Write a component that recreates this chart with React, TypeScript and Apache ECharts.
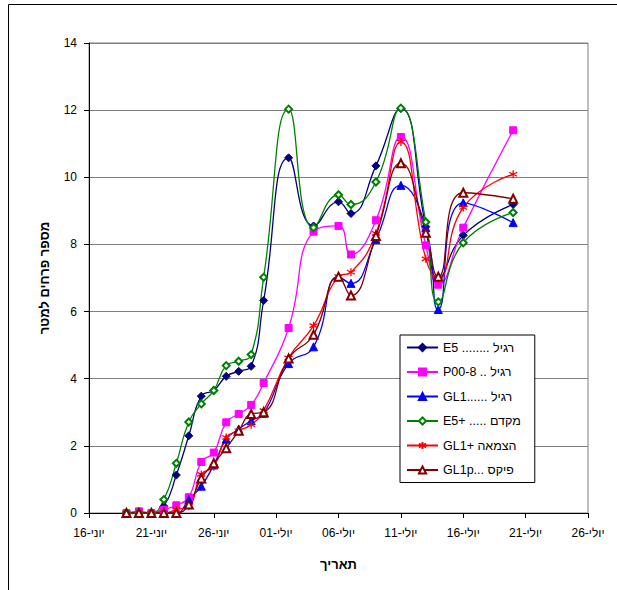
import React, { useEffect, useRef } from "react";
import * as echarts from "echarts";

// Days after 16-Jun on which counts were taken
const dayOffsets = [3, 4, 5, 6, 7, 8, 9, 10, 11, 12, 13, 14, 16, 18, 20, 21, 23, 25, 27, 28, 30, 34];

const tickLabels = ["16-יוני", "21-יוני", "26-יוני", "01-יולי", "06-יולי", "11-יולי", "16-יולי", "21-יולי", "26-יולי"];

const seriesNames = [
  "E5 ........ רגיל",
  "P00-8 .. רגיל",
  "GL1...... רגיל",
  "E5+ ..... מקדם",
  "GL1+ הצמאה",
  "GL1p... פיקס",
];

const e5Regular = [0, 0, 0, 0.2, 1.13, 2.3, 3.48, 3.65, 4.07, 4.22, 4.37, 6.33, 10.58, 8.55, 9.27, 8.92, 10.34, 12.05, 8.53, 7.0, 8.27, 9.19];
const p008Regular = [0, 0.05, 0, 0.1, 0.23, 0.47, 1.52, 1.8, 2.7, 2.95, 3.22, 3.87, 5.51, 8.38, 8.55, 7.7, 8.72, 11.2, 7.97, 6.8, 8.5, 11.4];
const gl1Regular = [0, 0, 0, 0, 0, 0.4, 0.8, 1.43, 2.2, 2.5, 2.75, 2.97, 4.45, 4.95, 7.04, 6.84, 8.15, 9.76, 8.5, 6.06, 9.24, 8.65];
const e5Advanced = [0, 0, 0, 0.4, 1.48, 2.71, 3.25, 3.65, 4.39, 4.52, 4.72, 7.02, 12.03, 8.5, 9.48, 9.19, 9.86, 12.06, 8.67, 6.29, 8.05, 8.95];
const gl1Thirst = [0, 0, 0, 0, 0.1, 0.2, 1.15, 1.38, 2.25, 2.45, 2.63, 3.05, 4.62, 5.58, 7.04, 7.17, 8.33, 11.05, 7.57, 6.98, 9.1, 10.09];
const gl1pFix = [0, 0, 0, 0, 0, 0.25, 1.03, 1.48, 1.93, 2.45, 2.95, 3.0, 4.6, 5.31, 7.04, 6.48, 8.25, 10.42, 8.35, 7.04, 9.54, 9.36];

const seriesValues = [e5Regular, p008Regular, gl1Regular, e5Advanced, gl1Thirst, gl1pFix];
const seriesColors = ["#000080", "#FF00FF", "#0000FF", "#008000", "#FF0000", "#800000"];
const seriesSymbols = [
  "diamond",
  "rect",
  "triangle",
  "emptyDiamond",
  "path://M5,0L5,10M0.8,2.5L9.2,7.5M9.2,2.5L0.8,7.5",
  "emptyTriangle",
];
const symbolSizes = [8, 7, 8, 7, 8, 8];

const FONT = "'Liberation Sans', Arial, sans-serif";

export default function App() {
  const ref = useRef<HTMLDivElement>(null);

  useEffect(() => {
    if (!ref.current) return;
    const chart = echarts.init(ref.current, null, { renderer: "svg" });

    const series = seriesValues.map((vals, i) => ({
      name: seriesNames[i],
      type: "line",
      smooth: 0.5,
      symbol: seriesSymbols[i],
      symbolSize: symbolSizes[i],
      showAllSymbol: true,
      data: vals.map((v, k) => [dayOffsets[k], v]),
      lineStyle: { color: seriesColors[i], width: 1.3 },
      itemStyle: {
        color: seriesColors[i],
        borderColor: seriesColors[i],
        borderWidth: i === 4 ? 1.3 : 1,
      },
    }));

    chart.setOption({
      animation: false,
      textStyle: { fontFamily: FONT },
      graphic: [
        {
          type: "rect",
          shape: { x: 8.5, y: 4.5, width: 700, height: 700 },
          style: { fill: "none", stroke: "#000", lineWidth: 1 },
          silent: true,
        },
      ],
      grid: {
        left: 89,
        top: 43,
        right: 29,
        bottom: 77,
        show: true,
        borderColor: "#808080",
        borderWidth: 1,
      },
      legend: {
        orient: "vertical",
        left: 400,
        top: 335,
        width: 135,
        padding: [6, 14, 6, 6],
        itemWidth: 31,
        itemHeight: 9,
        itemGap: 11.5,
        borderColor: "#000",
        borderWidth: 1,
        backgroundColor: "#fff",
        textStyle: { fontSize: 12.5, color: "#000", fontFamily: FONT },
        data: seriesNames,
      },
      xAxis: {
        type: "value",
        min: 0,
        max: 40,
        interval: 5,
        name: "תאריך",
        nameLocation: "middle",
        nameGap: 45,
        nameTextStyle: { fontWeight: "bold", fontSize: 13, color: "#000", fontFamily: FONT },
        axisLine: { lineStyle: { color: "#000", width: 1 } },
        axisTick: { show: true, length: 5, lineStyle: { color: "#000" } },
        axisLabel: {
          fontSize: 12,
          color: "#000",
          margin: 14,
          fontFamily: FONT,
          formatter: (v: number) => tickLabels[Math.round(v / 5)] ?? "",
        },
        splitLine: { show: false },
      },
      yAxis: {
        type: "value",
        min: 0,
        max: 14,
        interval: 2,
        name: "מספר פרחים למטר",
        nameLocation: "middle",
        nameRotate: 90,
        nameGap: 38,
        nameTextStyle: { fontWeight: "bold", fontSize: 13, color: "#000", fontFamily: FONT },
        axisLine: { show: true, lineStyle: { color: "#000", width: 1 } },
        axisTick: { show: true, length: 5, lineStyle: { color: "#000" } },
        axisLabel: { fontSize: 12, color: "#000", margin: 12, fontFamily: FONT },
        splitLine: { show: true, lineStyle: { color: "#808080", width: 1 } },
      },
      series,
    });

    return () => chart.dispose();
  }, []);

  return (
    <div
      ref={ref}
      style={{ position: "absolute", left: 0, top: 0, width: 617, height: 590, background: "#fff" }}
    />
  );
}
